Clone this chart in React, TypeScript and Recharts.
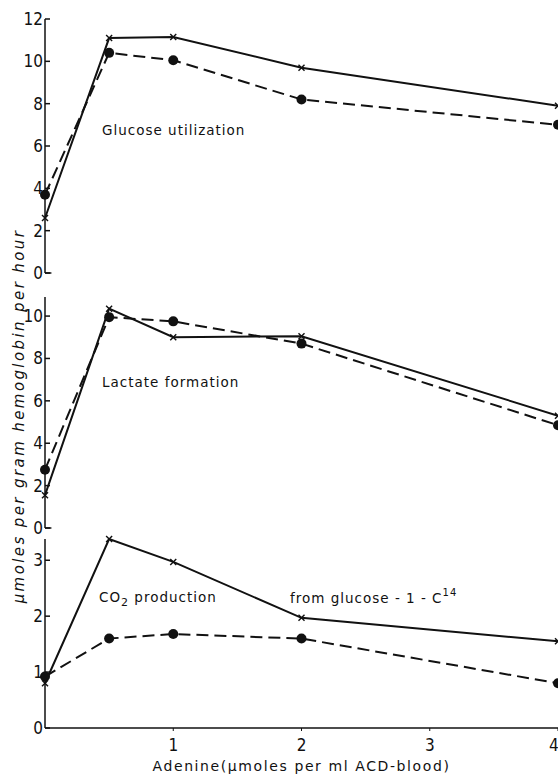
import { Line, LineChart, ReferenceLine, XAxis, YAxis } from 'recharts';

// adenine added, µmoles per ml ACD-blood
const doses = [0, 0.5, 1, 2, 4];

// x = solid line with crosses, dot = dashed line with filled circles
const glucoseCross = [2.6, 11.1, 11.15, 9.7, 7.9];
const glucoseDot = [3.7, 10.4, 10.05, 8.2, 7.0];
const lactateCross = [1.55, 10.35, 9.0, 9.05, 5.3];
const lactateDot = [2.75, 9.95, 9.75, 8.7, 4.85];
const co2Cross = [0.8, 3.38, 2.97, 1.97, 1.55];
const co2Dot = [0.92, 1.6, 1.68, 1.6, 0.8];

const glucoseTicks = [0, 2, 4, 6, 8, 10, 12];
const lactateTicks = [0, 2, 4, 6, 8, 10];
const co2Ticks = [0, 1, 2, 3];
const doseTicks = [1, 2, 3, 4];

const INK = '#111';
const NUM_FONT = '"Liberation Sans Narrow", "DejaVu Sans Condensed", sans-serif';
const TEXT_FONT = '"DejaVu Sans", sans-serif';
const W = 558;
const AXIS_W = 45;

function rows(cross: number[], dot: number[]) {
  return doses.map((dose, i) => ({ dose, cross: cross[i], dot: dot[i] }));
}

function Cross({ cx, cy }: any) {
  if (cx == null || cy == null) return null;
  return (
    <g stroke={INK} strokeWidth={1.4}>
      <line x1={cx - 3} y1={cy - 3} x2={cx + 3} y2={cy + 3} />
      <line x1={cx - 3} y1={cy + 3} x2={cx + 3} y2={cy - 3} />
    </g>
  );
}

function Disc({ cx, cy }: any) {
  if (cx == null || cy == null) return null;
  return <circle cx={cx} cy={cy} r={5} fill={INK} />;
}

// tick marks point into the plot, labels hug the axis
function YTick({ x, y, payload }: any) {
  return (
    <g>
      <line x1={x + 2} x2={x + 7} y1={y} y2={y} stroke={INK} strokeWidth={1.5} />
      <text x={x} y={y} dy={6} textAnchor="end" fontFamily={NUM_FONT} fontSize={17} fill={INK}>
        {payload.value}
      </text>
    </g>
  );
}

interface PanelProps {
  top: number;
  height: number;
  marginTop: number;
  marginBottom: number;
  data: { dose: number; cross: number; dot: number }[];
  max: number;
  ticks: number[];
  bottomAxis?: boolean;
}

function Panel({ top, height, marginTop, marginBottom, data, max, ticks, bottomAxis }: PanelProps) {
  return (
    <div style={{ position: 'absolute', left: 0, top }}>
      <LineChart
        width={W}
        height={height}
        data={data}
        margin={{ top: marginTop, right: 0, bottom: marginBottom, left: 0 }}
      >
        <XAxis
          dataKey="dose"
          type="number"
          domain={[0, 4]}
          ticks={doseTicks}
          hide={!bottomAxis}
          height={47}
          axisLine={{ stroke: INK, strokeWidth: 1.5 }}
          tickLine={{ stroke: INK }}
          tickSize={3}
          tickMargin={8}
          tick={{ fontFamily: NUM_FONT, fontSize: 17, fill: INK }}
          label={{
            value: 'Adenine(µmoles per ml ACD-blood)',
            position: 'insideBottom',
            offset: 4,
            style: { fontFamily: TEXT_FONT, fontSize: 14, letterSpacing: 1.6, fill: INK },
          }}
        />
        <YAxis
          type="number"
          domain={[0, max]}
          ticks={ticks}
          width={AXIS_W}
          axisLine={{ stroke: INK, strokeWidth: 1.5 }}
          tickLine={false}
          tickSize={0}
          tickMargin={2}
          tick={<YTick />}
          interval={0}
        />
        {!bottomAxis && (
          <ReferenceLine
            segment={[
              { x: 0, y: 0 },
              { x: 0.05, y: 0 },
            ]}
            stroke={INK}
            strokeWidth={1.5}
          />
        )}
        <Line
          dataKey="dot"
          stroke={INK}
          strokeWidth={2}
          strokeDasharray="12 6"
          dot={(p: any) => <Disc key={`d${p.index}`} {...p} />}
          isAnimationActive={false}
        />
        <Line
          dataKey="cross"
          stroke={INK}
          strokeWidth={2}
          dot={(p: any) => <Cross key={`c${p.index}`} {...p} />}
          isAnimationActive={false}
        />
      </LineChart>
    </div>
  );
}

export default function App() {
  const label = { fontFamily: TEXT_FONT, fontSize: 13.5, letterSpacing: 1, fill: INK };
  return (
    <div style={{ position: 'absolute', left: 0, top: 0, width: W, height: 775, background: '#fff' }}>
      <Panel top={0} height={288} marginTop={19} marginBottom={15} data={rows(glucoseCross, glucoseDot)} max={12} ticks={glucoseTicks} />
      <Panel top={285} height={258} marginTop={12} marginBottom={15} data={rows(lactateCross, lactateDot)} max={10.9} ticks={lactateTicks} />
      <Panel top={530} height={245} marginTop={9} marginBottom={0} data={rows(co2Cross, co2Dot)} max={3.3} ticks={co2Ticks} bottomAxis />
      <svg width={W} height={775} style={{ position: 'absolute', left: 0, top: 0, pointerEvents: 'none' }}>
        <text
          x={19}
          y={416}
          transform="rotate(-90 19 416)"
          textAnchor="middle"
          dominantBaseline="central"
          fontFamily={TEXT_FONT}
          fontStyle="italic"
          fontSize={15}
          letterSpacing={2.4}
          fill={INK}
        >
          µmoles per gram hemoglobin per hour
        </text>
        <text x={102} y={135} {...label}>Glucose utilization</text>
        <text x={102} y={387} {...label}>Lactate formation</text>
        <text x={99} y={602} {...label}>
          CO<tspan dy={4} fontSize={11}>2</tspan>
          <tspan dy={-4}> production</tspan>
        </text>
        <text x={290} y={603} {...label}>
          from glucose - 1 - C<tspan dy={-7} fontSize={10}>14</tspan>
        </text>
      </svg>
    </div>
  );
}
